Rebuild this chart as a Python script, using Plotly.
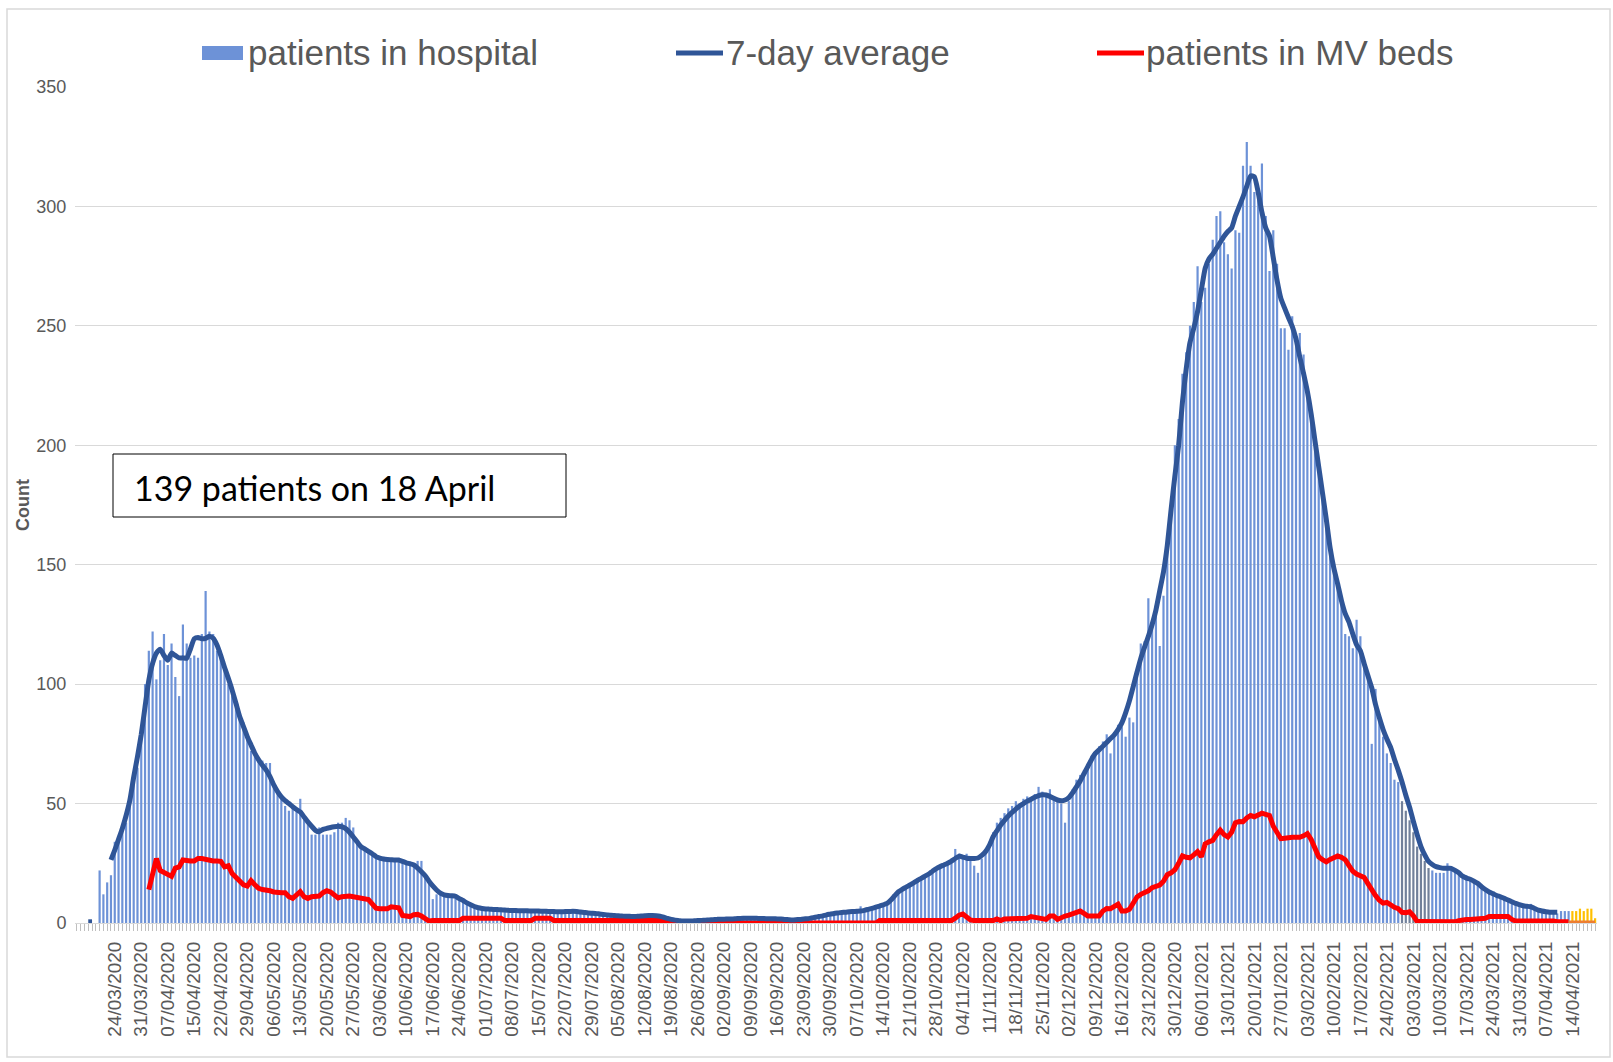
import pandas as pd
import plotly.graph_objects as go

# ---------------- categories (daily, one date missing in the source) ----------------
START_DATE = "2020-03-14"
END_DATE = "2021-04-20"
MISSING_DATE = "2020-04-11"
CATEGORIES = [d.strftime("%d/%m/%Y") for d in pd.date_range(START_DATE, END_DATE)
              if d.strftime("%Y-%m-%d") != MISSING_DATE]

TICK_LABELS = [
    "24/03/2020", "31/03/2020", "07/04/2020", "15/04/2020", "22/04/2020", "29/04/2020",
    "06/05/2020", "13/05/2020", "20/05/2020", "27/05/2020", "03/06/2020", "10/06/2020",
    "17/06/2020", "24/06/2020", "01/07/2020", "08/07/2020", "15/07/2020", "22/07/2020",
    "29/07/2020", "05/08/2020", "12/08/2020", "19/08/2020", "26/08/2020", "02/09/2020",
    "09/09/2020", "16/09/2020", "23/09/2020", "30/09/2020", "07/10/2020", "14/10/2020",
    "21/10/2020", "28/10/2020", "04/11/2020", "11/11/2020", "18/11/2020", "25/11/2020",
    "02/12/2020", "09/12/2020", "16/12/2020", "23/12/2020", "30/12/2020", "06/01/2021",
    "13/01/2021", "20/01/2021", "27/01/2021", "03/02/2021", "10/02/2021", "17/02/2021",
    "24/02/2021", "03/03/2021", "10/03/2021", "17/03/2021", "24/03/2021", "31/03/2021",
    "07/04/2021", "14/04/2021",
]

# ---------------- series values (one per category) ----------------
HOSPITAL = [
    None, None, None, None, None, None, 22, 12, 17, 20,
    34, 36, 40, 42, 53, 58, 65, 79, 100, 114,
    122, 102, 110, 121, 108, 117, 103, 95, 125, 117,
    111, 112, 111, 121, 139, 122, 121, 114, 114, 106,
    100, 95, 92, 88, 84, 77, 72, 72, 68, 68,
    67, 67, 58, 54, 52, 49, 47, 49, 47, 52,
    44, 43, 37, 37, 40, 37, 37, 37, 38, 42,
    42, 44, 43, 40, 35, 33, 31, 30, 29, 28,
    27, 27, 27, 26, 26, 26, 25, 25, 24, 24,
    26, 26, 19, 17, 10, 12, 12, 12, 11, 11,
    12, 11, 10, 8, 7, 7, 6, 6, 6, 6,
    6, 6, 5, 5, 5, 5, 5, 5, 5, 5,
    5, 5, 5, 5, 5, 5, 5, 5, 4, 5,
    5, 5, 5, 5, 4, 4, 4, 4, 4, 3,
    3, 3, 3, 3, 3, 3, 3, 3, 3, 3,
    3, 3, 3, 3, 3, 2, 2, 1, 1, 1,
    1, 1, 1, 1, 1, 1, 1, 1, 1, 2,
    2, 2, 2, 2, 2, 2, 2, 2, 2, 2,
    2, 2, 2, 2, 2, 2, 2, 2, 1, 1,
    1, 1, 2, 2, 2, 2, 3, 3, 3, 4,
    4, 4, 5, 5, 5, 5, 5, 7, 5, 6,
    6, 6, 7, 7, 8, 9, 11, 12, 14, 15,
    16, 17, 18, 19, 20, 21, 21, 22, 24, 25,
    26, 27, 31, 29, 28, 29, 27, 24, 21, 27,
    30, 34, 38, 42, 44, 46, 48, 49, 51, 50,
    52, 53, 52, 54, 57, 55, 54, 56, 52, 51,
    50, 42, 51, 56, 60, 62, 64, 66, 70, 72,
    74, 76, 79, 71, 80, 83, 82, 78, 86, 84,
    104, 117, 118, 136, 126, 133, 116, 137, 160, 175,
    200, 211, 230, 239, 250, 260, 275, 260, 266, 276,
    286, 296, 298, 285, 280, 274, 290, 289, 317, 327,
    317, 306, 304, 318, 296, 273, 290, 276, 249, 249,
    240, 254, 243, 247, 238, 220, 209, 202, 190, 177,
    170, 157, 149, 142, 136, 121, 120, 115, 127, 120,
    108, 103, 75, 98, 86, 78, 71, 67, 60, 59,
    51, 47, 43, 38, 32, 29, 26, 23, 22, 21,
    21, 21, 25, 23, 22, 21, 20, 20, 19, 18,
    17, 15, 14, 13, 12, 12, 11, 11, 10, 9,
    8, 7, 7, 7, 8, 6, 6, 5, 5, 4,
    4, 4, 5, 5, 5,
]
HOSPITAL_PROVISIONAL = [5, 5, 6, 5, 6, 6, 2]

AVG_7DAY = [
    None, None, None, 0.5, 0.5, None, None, None, None, 26.4,
    30.5, 35, 39.6, 45, 51.5, 61, 69.6, 79, 90.5, 101.7,
    108.7, 113, 114.6, 112, 110, 113, 112, 111, 111, 110.8,
    114.8, 119, 119.5, 119, 119.2, 120, 119.2, 116.4, 112, 107,
    102.4, 97.5, 92, 86.4, 82.2, 78, 74.5, 71, 68.3, 66,
    64, 61.3, 57.8, 55, 52.8, 51.2, 50, 48.7, 47.5, 46.5,
    44.4, 42.3, 40.5, 38.8, 38.2, 39.2, 39.6, 40, 40.3, 40.5,
    40.3, 39.5, 38, 36, 34, 32, 31, 30, 29, 27.8,
    27.2, 26.8, 26.6, 26.5, 26.4, 26.4, 25.8, 25.2, 24.8, 24.3,
    23, 21.5, 19.8, 17.5, 15.5, 13.8, 12.5, 11.8, 11.5, 11.4,
    11.2, 10.2, 9.4, 8.4, 7.6, 6.9, 6.4, 6.1, 5.9, 5.8,
    5.7, 5.6, 5.5, 5.4, 5.3, 5.2, 5.2, 5.1, 5.1, 5.1,
    5, 5, 5, 4.9, 4.9, 4.8, 4.8, 4.7, 4.7, 4.8,
    4.8, 4.9, 4.8, 4.6, 4.4, 4.2, 4.1, 4, 3.8, 3.6,
    3.4, 3.2, 3.1, 3, 2.9, 2.8, 2.8, 2.7, 2.8, 2.9,
    3, 3.1, 3.1, 3, 2.8, 2.4, 1.9, 1.5, 1.2, 1,
    0.8, 0.8, 0.8, 0.9, 1, 1.1, 1.2, 1.3, 1.4, 1.5,
    1.6, 1.6, 1.7, 1.7, 1.8, 1.9, 2, 2, 2, 2,
    1.9, 1.9, 1.8, 1.8, 1.8, 1.7, 1.7, 1.5, 1.4, 1.3,
    1.4, 1.5, 1.7, 1.8, 2.1, 2.4, 2.7, 3, 3.4, 3.7,
    4, 4.2, 4.4, 4.5, 4.7, 4.8, 4.9, 5, 5.3, 5.7,
    6.1, 6.6, 7.1, 7.6, 8.2, 9.6, 11.4, 13.1, 14.1, 15,
    15.9, 16.8, 17.8, 18.7, 19.6, 20.5, 21.7, 22.8, 23.6, 24.3,
    25, 25.9, 27, 28, 27.6, 27.1, 27, 27, 27.2, 28.3,
    29.9, 32.5, 36.1, 38.6, 41, 43, 44.8, 46.3, 47.7, 49,
    50, 51, 51.8, 52.6, 53.3, 53.7, 53.6, 53, 52.2, 51.5,
    51.2, 51.5, 52.5, 54.5, 57, 59.5, 62.5, 65.5, 68.5, 71,
    72.5, 74, 75.6, 77.2, 78.8, 81, 83.8, 88, 93, 99,
    105, 110.8, 115.5, 120, 125, 131, 139, 147, 158, 173,
    187, 200, 218, 232, 243, 249, 256, 265, 274, 278,
    280, 282.5, 285, 287.5, 289.5, 291, 296, 300, 304, 308.5,
    312.8, 312.4, 306, 297.5, 291, 287.6, 278.5, 269, 261.5, 257.4,
    253.5, 249.8, 244.5, 237, 230, 222.5, 213.2, 202, 191, 180,
    169, 157.1, 148.5, 142, 135, 129.5, 126, 121, 116.5, 114,
    108.6, 103.5, 98.5, 91.5, 86, 81, 77, 73.5, 68.5, 64,
    59, 53.5, 48.5, 42.5, 37, 32, 28.5, 25.8, 24.5, 23.6,
    23.2, 22.9, 22.9, 22.9, 22, 21, 19.6, 18.8, 18.3, 17.5,
    16.6, 15.2, 14, 13, 12.3, 11.5, 11, 10.3, 9.6, 8.9,
    8.2, 7.7, 7.2, 7, 6.8, 6.1, 5.4, 5, 4.7, 4.5,
    4.5, 4.5, None, None, None,
]

MV_BEDS = [
    None, None, None, None, None, None, None, None, None, None,
    None, None, None, None, None, None, None, None, None, 14,
    20, 27, 22, 21, 20, 19.5, 23, 23.5, 26.4, 26,
    26, 26, 27, 27, 26.5, 26, 26, 26, 25.8, 23.5,
    24, 20.7, 19, 18, 16, 15.5, 17.7, 16, 14.5, 14,
    14, 13.5, 13, 12.7, 12.7, 12.7, 11, 10.3, 11.7, 13.1,
    11, 10.3, 11, 11.3, 11.3, 12.7, 13.5, 13, 11.5, 10.5,
    11, 11.3, 11.3, 11, 10.6, 10.4, 10.3, 9.8, 8, 6.2,
    6, 5.8, 6, 6.8, 6.7, 6.4, 3.2, 2.8, 2.7, 3.5,
    3.6, 2.9, 2, 0.8, 1, 1, 1, 1, 1, 1,
    1, 1, 2, 2, 2, 2, 2, 2, 2, 2,
    2, 2, 2, 1, 1, 1, 1, 1, 1, 1,
    1, 2, 2, 2, 2, 2, 1, 1, 1, 1,
    1, 1, 1, 1, 1, 1, 1, 1, 1, 1,
    1, 1, 1, 1, 1, 1, 1, 1, 1, 1,
    1, 1, 1, 1, 1, 1, 1, 0, 0, 0,
    0, 0, 0, 0, 0, 0, 0, 0, 0, 0,
    0, 0, 0, 0, 0, 0, 0, 0, 0, 0,
    0, 0, 0, 0, 0, 0, 0, 0, 0, 0,
    0, 0, 0, 0, 0, 0, 0, 0, 0, 0,
    0, 0, 0, 0, 0, 0, 0, 0, 0, 0,
    0, 0, 1, 1, 1, 1, 1, 1, 1, 1,
    1, 1, 1, 1, 1, 1, 1, 1, 1, 1,
    1, 1, 2, 3.3, 3.8, 2.5, 1.3, 1, 1, 1,
    1, 1, 1, 1.7, 1, 1.7, 1.7, 1.7, 1.7, 1.7,
    1.7, 2, 2.7, 2.4, 2.4, 2, 1.5, 2.9, 2.9, 1.5,
    2.5, 2.9, 3.3, 3.8, 4.3, 5, 4, 2.9, 2.9, 2.9,
    2.9, 5, 6.1, 6, 7, 7.9, 5, 5, 5.7, 8,
    10.9, 12, 12.6, 13.5, 14.8, 15.3, 15.9, 17.5, 20.2, 21,
    22.3, 25, 28.1, 27.5, 27.3, 28.5, 29.9, 27.7, 33.1, 34,
    34.6, 37, 38.9, 37, 36, 38, 42, 42.5, 42.4, 44,
    45, 44.5, 45, 46, 45.5, 45, 40.5, 37.5, 35.3, 35.5,
    35.9, 35.9, 35.9, 35.9, 36.5, 37.4, 35, 31, 27.7, 26.5,
    25.6, 26.6, 27.5, 28.1, 27.5, 26.5, 24, 21.7, 20.5, 19.8,
    19.1, 16.5, 13.7, 11.5, 9.5, 8.3, 8.6, 7.5, 6.6, 6,
    4.5, 4.3, 4.7, 3, 0.6, 0.6, 0.6, 0.6, 0.6, 0.6,
    0.6, 0.6, 0.3, 0.2, 0.5, 1, 1.5, 1.5, 1.5, 1.5,
    1.5, 1.5, 2, 2.7, 2.7, 2.7, 2.7, 2.7, 2.7, 1.5,
    0.8, 0.8, 0.8, 0.8, 0.8, 0.8, 0.8, 0.8, 0.8, 1.3,
    0.8, 0.5, 0.5, 0.5, 0.5,
]
MV_PROVISIONAL = [0, 0, 0, 0, 0, 0, 0, 0]

Y_TICKS = [0, 50, 100, 150, 200, 250, 300, 350]

# ---------------- styling ----------------
W, H = 1613, 1062
PL, PR, PT, PB = 75, 1597, 87, 923   # plot area in px
BLUE_BAR = "#6d92d7"
SLATE_BAR = "#71809a"
YELLOW_BAR = "#ffc000"
AVG_COLOR = "#2f5597"
MV_COLOR = "#ff0000"
ORANGE = "#ed7d31"
TXT = "#595959"
FONT = "Liberation Sans, Arial, sans-serif"
LINE_W = 5

n_main = len(HOSPITAL)
cats_main = CATEGORIES[:n_main]
cats_prov = CATEGORIES[n_main:]
slate_from, slate_to = CATEGORIES.index("04/03/2021") - 4, CATEGORIES.index("04/03/2021") + 3
bar_colors = [SLATE_BAR if slate_from <= k <= slate_to else BLUE_BAR for k in range(n_main)]


def px_x(p):
    return (p - PL) / (PR - PL)


def px_y(p):
    return (PB - p) / (PB - PT)


fig = go.Figure()
fig.add_trace(go.Bar(x=cats_main, y=HOSPITAL, marker=dict(color=bar_colors, line_width=0),
                     name="patients in hospital"))
fig.add_trace(go.Bar(x=cats_prov, y=HOSPITAL_PROVISIONAL, marker=dict(color=YELLOW_BAR, line_width=0),
                     name="patients in hospital (provisional)"))
fig.add_trace(go.Scatter(x=cats_main, y=MV_BEDS, mode="lines", name="patients in MV beds",
                         line=dict(color=MV_COLOR, width=LINE_W), connectgaps=False))
fig.add_trace(go.Scatter(x=CATEGORIES[n_main - 1:], y=MV_PROVISIONAL, mode="lines",
                         name="MV provisional", line=dict(color=ORANGE, width=LINE_W)))
fig.add_trace(go.Scatter(x=cats_main, y=AVG_7DAY, mode="lines", name="7-day average",
                         line=dict(color=AVG_COLOR, width=LINE_W, shape="spline", smoothing=0.5),
                         connectgaps=False))

tick_text = [c if c in TICK_LABELS else "" for c in CATEGORIES]

fig.update_layout(
    width=W, height=H,
    margin=dict(l=PL, r=W - PR, t=PT, b=H - PB, pad=0),
    plot_bgcolor="white", paper_bgcolor="white",
    showlegend=False, barmode="overlay", bargap=0.42,
    font=dict(family=FONT, color=TXT),
)
fig.update_xaxes(
    type="category", categoryorder="array", categoryarray=CATEGORIES,
    range=[-0.5, len(CATEGORIES) - 0.5],
    tickmode="array", tickvals=CATEGORIES, ticktext=tick_text,
    tickangle=-90, tickfont=dict(family=FONT, size=19, color=TXT),
    ticks="outside", ticklen=7, tickwidth=1, tickcolor="#bfbfbf",
    ticklabelstandoff=3,
    showline=True, linecolor="#d9d9d9", linewidth=1,
    showgrid=False, zeroline=False,
)
fig.update_yaxes(
    range=[0, 350], tickmode="array", tickvals=Y_TICKS,
    tickfont=dict(family=FONT, size=18, color=TXT),
    ticks="outside", ticklen=4, tickcolor="rgba(0,0,0,0)",
    showgrid=True, gridcolor="#d9d9d9", gridwidth=1.3,
    zeroline=False, showline=False,
)

shapes = [
    # outer chart border
    dict(type="rect", xref="paper", yref="paper", x0=px_x(7), x1=px_x(1610), y0=px_y(9), y1=px_y(1057),
         line=dict(color="#d9d9d9", width=1.5), fillcolor="rgba(0,0,0,0)", layer="below"),
    # legend swatches
    dict(type="rect", xref="paper", yref="paper", x0=px_x(202), x1=px_x(243), y0=px_y(46), y1=px_y(60),
         line=dict(width=0), fillcolor=BLUE_BAR),
    dict(type="line", xref="paper", yref="paper", x0=px_x(676), x1=px_x(723), y0=px_y(53), y1=px_y(53),
         line=dict(color=AVG_COLOR, width=LINE_W)),
    dict(type="line", xref="paper", yref="paper", x0=px_x(1097), x1=px_x(1144), y0=px_y(53), y1=px_y(53),
         line=dict(color=MV_COLOR, width=LINE_W)),
    # annotation box
    dict(type="rect", xref="paper", yref="paper", x0=px_x(113), x1=px_x(566), y0=px_y(454), y1=px_y(517),
         line=dict(color="#000000", width=1), fillcolor="white"),
]
annotations = [
    dict(text="patients in hospital", x=px_x(246), y=px_y(53)),
    dict(text="7-day average", x=px_x(724), y=px_y(53)),
    dict(text="patients in MV beds", x=px_x(1144), y=px_y(53)),
]
annotations = [dict(a, xref="paper", yref="paper", xanchor="left", yanchor="middle", showarrow=False,
                    font=dict(family=FONT, size=35, color=TXT)) for a in annotations]
annotations.append(dict(text="<b>Count</b>", x=px_x(23), y=px_y(505), xref="paper", yref="paper",
                        textangle=-90, showarrow=False, xanchor="center", yanchor="middle",
                        font=dict(family=FONT, size=18, color=TXT)))
annotations.append(dict(text="139 patients on 18 April", x=px_x(132), y=px_y(487), xref="paper",
                        yref="paper", xanchor="left", yanchor="middle", showarrow=False,
                        font=dict(family="Lato, Carlito, sans-serif", size=34, color="#000000")))
fig.update_layout(shapes=shapes, annotations=annotations)

fig.write_html("out.html", config={"displayModeBar": False},
               post_script="document.body.style.margin='0';document.body.style.overflow='hidden';")
